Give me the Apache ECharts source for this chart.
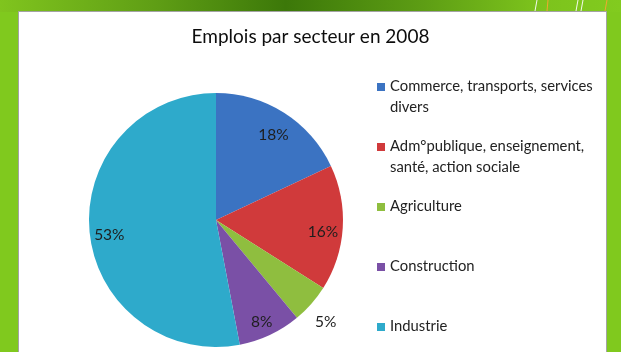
<!DOCTYPE html>
<html>
<head>
<meta charset="utf-8">
<script src="https://cdn.jsdelivr.net/npm/echarts@6/dist/echarts.min.js"></script>
<style>
  html, body { margin: 0; padding: 0; background: #80c91e; }
  #chart { width: 621px; height: 352px; }
</style>
</head>
<body>
<div id="chart"></div>
<script>
// Employment by sector, 2008 (share of jobs, %)
const chartTitle = 'Emplois par secteur en 2008';
const sectors = [
  'Commerce, transports, services divers',
  'Adm°publique, enseignement, santé, action sociale',
  'Agriculture',
  'Construction',
  'Industrie'
];
// legend text, split the way it wraps
const legendLines = [
  ['Commerce, transports, services', 'divers'],
  ['Adm°publique, enseignement,', 'santé, action sociale'],
  ['Agriculture', ''],
  ['Construction', ''],
  ['Industrie', '']
];
const shares = [18, 16, 5, 8, 53];
const sliceColors = ['#3b73c2', '#d03a3b', '#8fbe3f', '#7a50a6', '#2eaacb'];

const chart = echarts.init(document.getElementById('chart'), null, { renderer: 'canvas' });

const CX = 216, CY = 220, R = 127;
const FONT = 'Lato, "Open Sans", sans-serif';
const pieData = sectors.map((name, i) => ({ name, value: shares[i], itemStyle: { color: sliceColors[i] } }));
const ghostData = sectors.map((name, i) => ({ name, value: shares[i] }));
const smallSlice = 6; // slices below this share get their label outside the pie

const labelBase = {
  show: true,
  position: 'inside',
  color: '#1e1e1e',
  fontFamily: FONT,
  fontSize: 15.5
};

const option = {
  animation: false,
  graphic: [
    { type: 'rect', z: 0, silent: true, shape: { x: 0, y: 0, width: 621, height: 352 }, style: { fill: '#80c91e' } },
    {
      type: 'rect', z: 0, silent: true, shape: { x: 0, y: 0, width: 621, height: 12 },
      style: {
        fill: new echarts.graphic.LinearGradient(0, 0, 1, 0, [
          { offset: 0, color: '#80c41e' },
          { offset: 0.25, color: '#5f9e15' },
          { offset: 0.46, color: '#3c7809' },
          { offset: 0.68, color: '#5d9d14' },
          { offset: 0.86, color: '#7cc21c' },
          { offset: 1, color: '#82cb1f' }
        ])
      }
    },
    { type: 'line', z: 1, silent: true, shape: { x1: 535, y1: 11, x2: 537, y2: 0 }, style: { stroke: '#f4f8ee', lineWidth: 1 } },
    { type: 'line', z: 1, silent: true, shape: { x1: 547, y1: 11, x2: 548, y2: 0 }, style: { stroke: '#f0a830', lineWidth: 1 } },
    { type: 'line', z: 1, silent: true, shape: { x1: 576, y1: 11, x2: 578, y2: 0 }, style: { stroke: '#f4f8ee', lineWidth: 1 } },
    { type: 'line', z: 1, silent: true, shape: { x1: 581, y1: 11, x2: 583, y2: 0 }, style: { stroke: '#f4f8ee', lineWidth: 1 } },
    { type: 'line', z: 1, silent: true, shape: { x1: 605, y1: 11, x2: 607, y2: 0 }, style: { stroke: '#f0a830', lineWidth: 1 } },
    {
      type: 'rect', z: 1, silent: true,
      shape: { x: 18.5, y: 11.5, width: 588, height: 350 },
      style: { fill: '#ffffff', stroke: '#a3a3a3', lineWidth: 1 }
    }
  ],
  title: {
    text: chartTitle,
    left: 'center',
    top: 27,
    padding: 0,
    textStyle: { fontFamily: FONT, fontSize: 19, fontWeight: 'normal', color: '#0d0d0d' }
  },
  legend: {
    orient: 'vertical',
    left: 377,
    top: 79,
    height: 400,
    padding: 0,
    itemGap: 24.5,
    itemWidth: 8,
    itemHeight: 8,
    icon: 'rect',
    selectedMode: false,
    data: sectors,
    formatter: function (name) {
      const lines = legendLines[sectors.indexOf(name)];
      return '{a|' + lines[0] + '}\n{b|' + (lines[1] || ' ') + '}';
    },
    textStyle: {
      rich: {
        a: { fontFamily: FONT, fontSize: 14.8, color: '#222222', lineHeight: 40 },
        b: { fontFamily: FONT, fontSize: 14.8, color: '#222222', lineHeight: 1 }
      }
    }
  },
  series: [
    {
      type: 'pie',
      center: [CX, CY],
      radius: [0, R],
      startAngle: 90,
      clockwise: true,
      silent: true,
      label: { show: false },
      labelLine: { show: false },
      data: pieData
    },
    {
      // value labels placed inside the slices
      type: 'pie',
      center: [CX, CY + 5],
      radius: [R * 0.64, R],
      startAngle: 90,
      clockwise: true,
      silent: true,
      itemStyle: { color: 'rgba(0,0,0,0)' },
      label: Object.assign({}, labelBase, {
        formatter: p => (p.value >= smallSlice ? p.value + '%' : '')
      }),
      labelLine: { show: false },
      data: ghostData
    },
    {
      // value labels for thin slices, just outside the rim
      type: 'pie',
      center: [CX - 3, CY + 3],
      radius: [R, R * 1.32],
      startAngle: 90,
      clockwise: true,
      silent: true,
      itemStyle: { color: 'rgba(0,0,0,0)' },
      label: Object.assign({}, labelBase, {
        formatter: p => (p.value < smallSlice ? p.value + '%' : '')
      }),
      labelLine: { show: false },
      data: ghostData
    }
  ]
};

chart.setOption(option);
</script>
</body>
</html>
